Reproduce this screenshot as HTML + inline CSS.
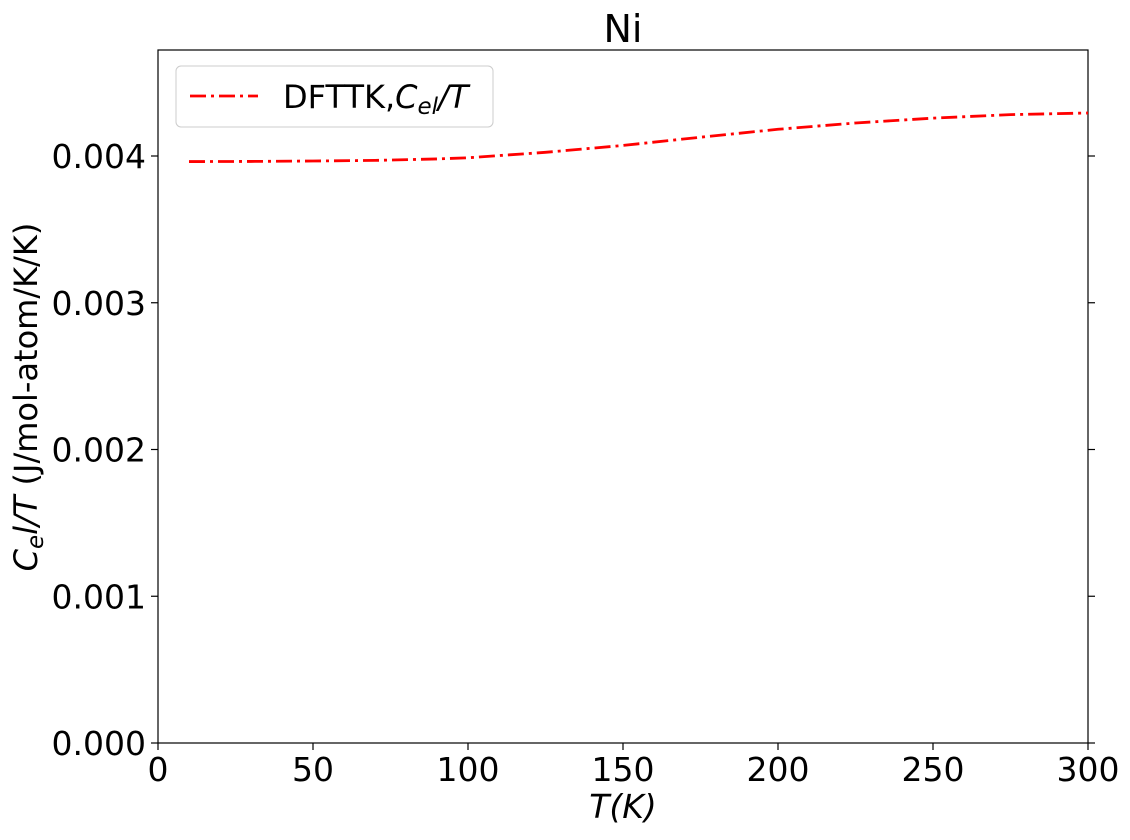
<!DOCTYPE html>
<html><head><meta charset="utf-8"><style>
body{margin:0;background:#fff}
svg text{font-family:"DejaVu Sans","Liberation Sans",sans-serif;fill:#000}
</style></head><body>
<svg width="1130" height="835" xmlns="http://www.w3.org/2000/svg">
<text x="623" y="42" font-size="38" text-anchor="middle">Ni</text>
<g id="axes"></g>
<rect x="158" y="50" width="930" height="693" fill="none" stroke="#000" stroke-width="1.2"/>
<path id="series" fill="none" stroke="#ff0000" stroke-width="2.8" stroke-dasharray="16,5,3,5"/>
<g>
<rect x="176" y="66" width="317" height="61" rx="5" fill="#fff" stroke="#ccc"/>
<line x1="190" y1="96" x2="258" y2="96" stroke="#ff0000" stroke-width="2.8" stroke-dasharray="16,5,3,5"/>
<text x="283" y="108" font-size="32">DFTTK,<tspan font-style="italic">C</tspan><tspan font-style="italic" font-size="23" dy="6">el</tspan><tspan font-style="italic" dy="-6">/T</tspan></text>
</g>
<text x="623" y="818" font-size="33" text-anchor="middle" font-style="italic">T(K)</text>
<text transform="translate(37,397) rotate(-90)" font-size="32" text-anchor="middle"><tspan font-style="italic">C</tspan><tspan font-style="italic" font-size="23" dy="6">e</tspan><tspan dy="-6" font-style="italic">l/T</tspan> (J/mol-atom/K/K)</text>
</svg>
<script>
const xTicks=[0,50,100,150,200,250,300];
const yTicks=[0,0.001,0.002,0.003,0.004];
const yTickLabels=["0.000","0.001","0.002","0.003","0.004"];
const temps=[10,30,50,70,90,100,125,150,175,200,225,250,275,300];
const celT=[0.003962,0.003963,0.003966,0.00397,0.00398,0.003988,0.004025,0.004072,0.004128,0.004182,0.004225,0.004258,0.004282,0.004293];
const sx=v=>158+v*3.1;
const sy=v=>743-v*146750;
const ns="http://www.w3.org/2000/svg";
const g=document.getElementById('axes');
function mk(t,a){const e=document.createElementNS(ns,t);for(const k in a)e.setAttribute(k,a[k]);return e;}
xTicks.forEach(v=>{
 const l=mk('line',{x1:sx(v),x2:sx(v),y1:743,y2:750,stroke:'#000','stroke-width':1.2});
 
 
 g.appendChild(l);
 const t=mk('text',{x:sx(v),y:781,'font-size':33,'text-anchor':'middle'});
 t.textContent=v;
 
 
 g.appendChild(t);
});
yTicks.forEach((v,i)=>{
 const l=mk('line',{x1:151,x2:158,y1:sy(v),y2:sy(v),stroke:'#000','stroke-width':1.2});
 
 
 g.appendChild(l);
 const r=mk('line',{x1:1088,x2:1095,y1:sy(v),y2:sy(v),stroke:'#000','stroke-width':1.2});
 
 
 g.appendChild(r);
 const t=mk('text',{x:146,y:sy(v)+12,'font-size':33,'text-anchor':'end'});
 t.textContent=yTickLabels[i];
 
 
 g.appendChild(t);
});
document.getElementById('series').setAttribute('d',temps.map((v,i)=>(i?'L':'M')+sx(v)+','+sy(celT[i])).join(''));
</script>
</body></html>
